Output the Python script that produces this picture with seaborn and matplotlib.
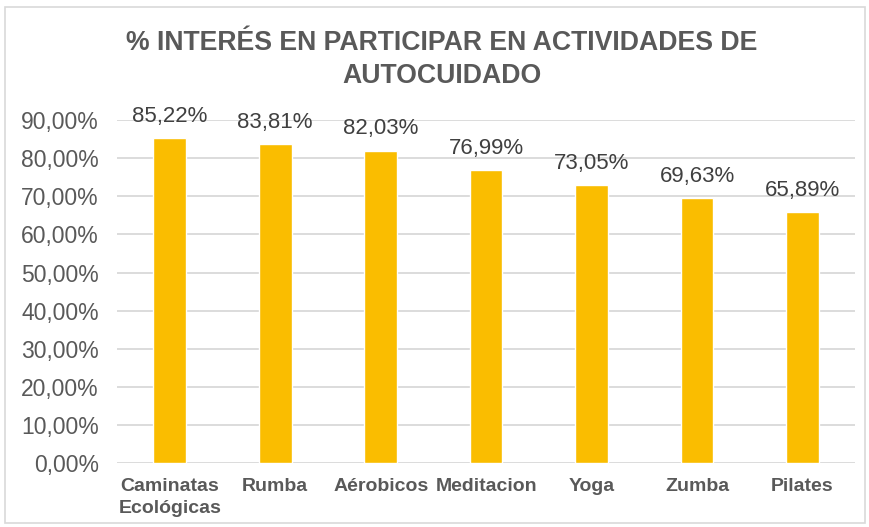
import matplotlib.pyplot as plt
import seaborn as sns
import pandas as pd
from matplotlib.patches import Rectangle
from matplotlib.ticker import FuncFormatter

categorias = ['Caminatas\nEcológicas', 'Rumba', 'Aérobicos', 'Meditacion', 'Yoga', 'Zumba', 'Pilates']
porcentajes = [85.22, 83.81, 82.03, 76.99, 73.05, 69.63, 65.89]
titulo = '% INTERÉS EN PARTICIPAR EN ACTIVIDADES DE\nAUTOCUIDADO'

sns.set_theme(style='white')
plt.rcParams['font.family'] = ['Liberation Sans', 'DejaVu Sans']

df = pd.DataFrame({'actividad': categorias, 'valor': porcentajes})

fig = plt.figure(figsize=(8.7, 5.27), dpi=100)
ax = fig.add_axes([0.1345, 0.1214, 0.8485, 0.6506])

sns.barplot(data=df, x='actividad', y='valor', color='#FABD00', width=0.31,
            saturation=1, ax=ax, zorder=3)

ax.set_ylim(0, 90)
ax.set_xlim(-0.5, len(categorias) - 0.5)
ax.set_yticks(range(0, 91, 10))
ax.yaxis.set_major_formatter(FuncFormatter(lambda v, _: f'{v:.2f}%'.replace('.', ',')))
ax.grid(axis='y', color='#D9D9D9', linewidth=1.3, zorder=0)
ax.set_axisbelow(True)
for s in ax.spines.values():
    s.set_visible(False)
ax.set_xlabel('')
ax.set_ylabel('')
ax.tick_params(axis='y', labelsize=16.5, colors='#595959', length=0, pad=13)
ax.tick_params(axis='x', length=0, pad=11)
for lbl in ax.get_xticklabels():
    lbl.set_fontsize(14)
    lbl.set_fontweight('bold')
    lbl.set_color('#595959')
    lbl.set_verticalalignment('top')
    lbl.set_linespacing(1.35)

for i, v in enumerate(porcentajes):
    ax.annotate(f'{v:.2f}%'.replace('.', ','), (i, v), xytext=(0, 8),
                textcoords='offset points', ha='center', va='bottom',
                fontsize=16, color='#404040', annotation_clip=False)

fig.text(0.508, 0.888, titulo, ha='center', va='center', fontsize=19.2,
         fontweight='bold', color='#595959', linespacing=1.35)

fig.patches.append(Rectangle((0.006, 0.008), 0.988, 0.978, transform=fig.transFigure,
                             fill=False, edgecolor='#D9D9D9', linewidth=1.2))

plt.savefig('out.png', dpi=100)
